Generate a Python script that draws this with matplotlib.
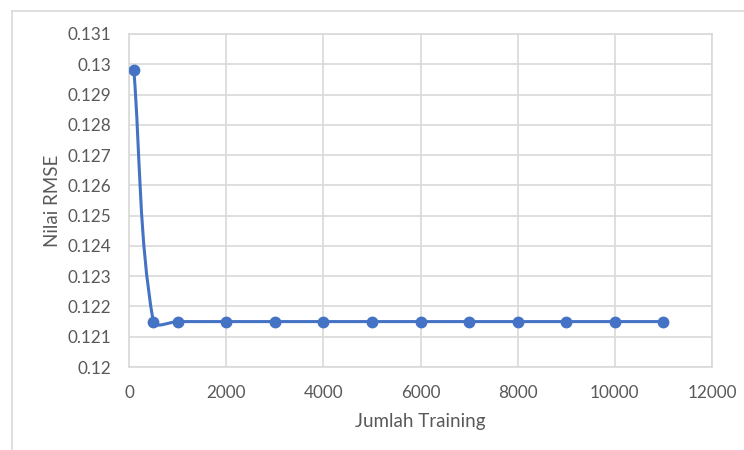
import numpy as np
import matplotlib.pyplot as plt
from matplotlib.path import Path
from matplotlib.patches import PathPatch
from matplotlib.lines import Line2D

# data
jumlah_training = [100, 500, 1000, 2000, 3000, 4000, 5000, 6000, 7000, 8000, 9000, 10000, 11000]
nilai_rmse = [0.1298, 0.1215, 0.1215, 0.1215, 0.1215, 0.1215, 0.1215, 0.1215, 0.1215,
              0.1215, 0.1215, 0.1215, 0.1215]
xticks = [0, 2000, 4000, 6000, 8000, 10000, 12000]
yticks = [0.12, 0.121, 0.122, 0.123, 0.124, 0.125, 0.126, 0.127, 0.128, 0.129, 0.13, 0.131]
ytick_labels = ['0.12', '0.121', '0.122', '0.123', '0.124', '0.125', '0.126', '0.127',
                '0.128', '0.129', '0.13', '0.131']

blue = '#4472C4'
grid_c = '#D9D9D9'
text_c = '#595959'
plt.rcParams['font.family'] = ['Lato', 'DejaVu Sans']

fig = plt.figure(figsize=(7.44, 4.5), dpi=100)
ax = fig.add_axes([129/744, 1-367/450, 583/744, 333/450])
ax.set_xlim(0, 12000)
ax.set_ylim(0.12, 0.131)
ax.set_xticks(xticks)
ax.set_xticklabels([str(t) for t in xticks])
ax.set_yticks(yticks)
ax.set_yticklabels(ytick_labels)
ax.grid(True, color=grid_c, lw=1.2)
ax.set_axisbelow(True)
for s in ax.spines.values():
    s.set_color(grid_c)
    s.set_linewidth(1.2)
ax.tick_params(length=0, colors=text_c, labelsize=12.3)
ax.tick_params(axis='x', pad=13)
ax.tick_params(axis='y', pad=13)

ax.set_xlabel('Jumlah Training', color=text_c, fontsize=13.5, va='center')
ax.set_ylabel('Nilai RMSE', color=text_c, fontsize=13.5, va='center')
ax.xaxis.set_label_coords(0.5, (367-422)/333)
ax.yaxis.set_label_coords((52-129)/583, 0.5)

# smoothed line (Excel style), control points worked out in display space
pts = ax.transData.transform(np.column_stack([jumlah_training, nilai_rmse]))
n = len(pts)
verts = [pts[0]]
codes = [Path.MOVETO]
for i in range(n - 1):
    p0 = pts[i - 1] if i > 0 else pts[i]
    p1 = pts[i]
    p2 = pts[i + 1]
    p3 = pts[i + 2] if i + 2 < n else pts[i + 1]
    seg = np.linalg.norm(p2 - p1)
    d1 = p2 - p0
    d1 = d1 / np.linalg.norm(d1)
    d2 = p3 - p1
    d2 = d2 / np.linalg.norm(d2)
    c1 = p1 + d1 * seg / 3
    c2 = p2 - d2 * seg / 3
    verts += [c1, c2, p2]
    codes += [Path.CURVE4] * 3
verts = ax.transData.inverted().transform(np.array(verts))
ax.add_patch(PathPatch(Path(verts, codes), facecolor='none', edgecolor=blue, lw=2.2,
                       capstyle='round', zorder=3))
ax.plot(jumlah_training, nilai_rmse, 'o', color=blue, ms=7.5, zorder=4)

# chart area border (cropped on the right and bottom)
fig.add_artist(Line2D([12/744, 12/744], [0, 1-11/450], color=grid_c, lw=1.2))
fig.add_artist(Line2D([12/744, 1], [1-11/450, 1-11/450], color=grid_c, lw=1.2))

fig.savefig('out.png', dpi=100)
